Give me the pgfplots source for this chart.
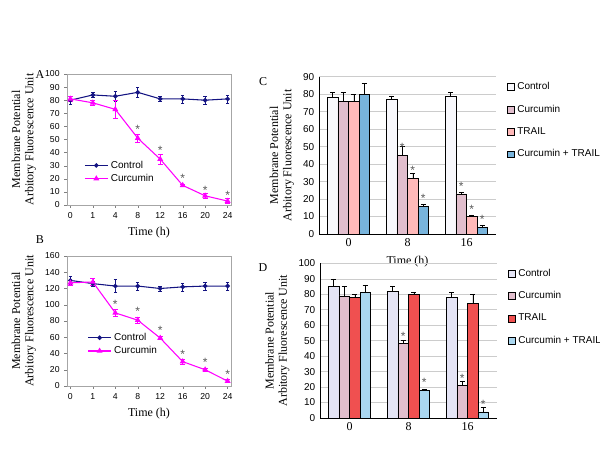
\documentclass[border=0pt]{standalone}
\usepackage{pgfplots}
\pgfplotsset{compat=1.18}
\usepackage{fontspec}
\setmainfont{Liberation Sans}
\newfontfamily\serif{Liberation Serif}
\definecolor{navy}{RGB}{20,20,130}
\definecolor{mag}{RGB}{255,0,255}
\definecolor{cctrl}{RGB}{248,248,252}
\definecolor{dctrl}{RGB}{228,228,245}
\definecolor{ccur}{RGB}{225,190,205}
\definecolor{ctrail}{RGB}{255,185,185}
\definecolor{dtrail}{RGB}{240,80,80}
\definecolor{ccomb}{RGB}{120,180,220}
\definecolor{dcomb}{RGB}{170,215,240}
\tikzset{ast/.style={text=gray!70!black,font=\fontsize{9}{9}\selectfont}}
\pgfplotsset{
 linepanel/.style={scale only axis, width=123pt, anchor=south west,
  xmin=-0.15,xmax=7.15, xtick={0,...,7}, xticklabels={0,1,4,8,12,16,20,24},
  axis line style={gray!70}, tick style={gray}, major tick length=2pt,
  tick align=outside, xtick pos=bottom, ytick pos=left,
  ticklabel style={font=\fontsize{6.5}{7}\selectfont},
  /pgf/number format/assume math mode=true,
  xlabel={\serif Time (h)}, xlabel style={font=\fontsize{9}{10}\selectfont},
  ylabel={\serif Membrane Potential\\\serif Arbitory Fluorescence Unit},
  ylabel style={align=center,font=\fontsize{9}{10}\selectfont},
  legend style={draw=none,fill=none,font=\fontsize{7.5}{8}\selectfont,row sep=-1pt},
  legend cell align=left,
  error bars/error bar style={line width=0.5pt},
 },
 barpanel/.style={scale only axis, width=132.75pt, anchor=south west,
  ybar=0pt, bar width=7.9pt, xmin=-0.5,xmax=2.5, xtick=data, xticklabels={0,8,16},
  axis lines*=left, tick style={draw=none}, major tick length=0pt,
  ymajorgrids, grid style={gray!40},
  ticklabel style={font=\fontsize{7.5}{8}\selectfont},
  xticklabel style={font=\serif\fontsize{9}{10}\selectfont},
  /pgf/number format/assume math mode=true,
  xlabel={\serif Time (h)}, xlabel style={font=\fontsize{9}{10}\selectfont},
  ylabel={\serif Membrane Potential\\\serif Arbitory Fluorescence Unit},
  ylabel style={align=center,font=\fontsize{9}{10}\selectfont},
  legend style={at={(1.04,1)},anchor=north west,draw=none,fill=none,
   font=\fontsize{7.5}{8}\selectfont,row sep=6pt},
  legend cell align=left,
  legend image code/.code={\draw[#1,draw=black] (0cm,-0.09cm) rectangle (0.18cm,0.09cm);},
  every axis plot/.append style={draw=black,line width=0.4pt,
   error bars/y dir=plus, error bars/y explicit,
   error bars/error bar style={black}},
  nodes near coords={\pgfplotspointmeta}, point meta=explicit symbolic,
  every node near coord/.append style={font=\fontsize{9}{9}\selectfont,text=gray!70!black,yshift=-1pt},
 },
}
\begin{document}
\begin{tikzpicture}
\path[use as bounding box] (0,0) rectangle (450pt,-347.25pt);
\node[font=\serif\fontsize{9}{10}\selectfont] at (40*0.75pt,-75*0.75pt) {A};
\node[font=\serif\fontsize{9}{10}\selectfont] at (40*0.75pt,-240*0.75pt) {B};
\node[font=\serif\fontsize{9}{10}\selectfont] at (263*0.75pt,-82*0.75pt) {C};
\node[font=\serif\fontsize{9}{10}\selectfont] at (263*0.75pt,-268*0.75pt) {D};
% Panel A
\begin{axis}[linepanel, at={(67*0.75pt,-205*0.75pt)}, height=98.25pt,
  ymin=0,ymax=100,ytick={0,10,...,100},
  legend style={at={(0.08,0.38)},anchor=north west}]
\addplot[navy,thick,mark=*,mark size=1.3pt,error bars/.cd,y dir=both,y explicit]
 table[x=x,y=y,y error=e]{
x y e
0 80 3
1 84 2
2 83 4
3 86 4
4 81 2
5 81 3
6 80 3
7 81 3
};
\addlegendentry{Control}
\addplot[mag,thick,mark=triangle*,mark size=1.8pt,error bars/.cd,y dir=both,y explicit]
 table[x=x,y=y,y error=e]{
x y e
0 81 2
1 78 2
2 73 7
3 51 3
4 35 4
5 15 1
6 7 2
7 3 2
};
\addlegendentry{Curcumin}
\node[ast] at (axis cs:3,58) {*};
\node[ast] at (axis cs:4,42) {*};
\node[ast] at (axis cs:5,20) {*};
\node[ast] at (axis cs:6,11) {*};
\node[ast] at (axis cs:7,7) {*};
\end{axis}
% Panel B
\begin{axis}[linepanel, at={(67*0.75pt,-386*0.75pt)}, height=97.5pt,
  ymin=0,ymax=160,ytick={0,20,...,160},
  legend style={at={(0.1,0.45)},anchor=north west}]
\addplot[navy,thick,mark=*,mark size=1.3pt,error bars/.cd,y dir=both,y explicit]
 table[x=x,y=y,y error=e]{
x y e
0 130 5
1 126 3
2 123 8
3 123 5
4 120 3
5 122 5
6 123 5
7 123 5
};
\addlegendentry{Control}
\addplot[mag,thick,mark=triangle*,mark size=1.8pt,error bars/.cd,y dir=both,y explicit]
 table[x=x,y=y,y error=e]{
x y e
0 127 3
1 128 4
2 90 4
3 81 4
4 59 2
5 30 3
6 20 2
7 6 2
};
\addlegendentry{Curcumin}
\node[ast] at (axis cs:2,101) {*};
\node[ast] at (axis cs:3,92) {*};
\node[ast] at (axis cs:4,68) {*};
\node[ast] at (axis cs:5,39) {*};
\node[ast] at (axis cs:6,29) {*};
\node[ast] at (axis cs:7,14) {*};
\end{axis}
% Panel C
\begin{axis}[barpanel, at={(319*0.75pt,-234*0.75pt)}, height=118pt,
  ymin=0,ymax=90,ytick={0,10,...,90}]
\addplot[fill=cctrl] table[x=x,y=y,y error=e,meta=m]{
x y e m
0 78 3 {}
1 77 2 {}
2 79 2 {}
};
\addlegendentry{Control}
\addplot[fill=ccur] table[x=x,y=y,y error=e,meta=m]{
x y e m
0 76 5 {}
1 45 5 *
2 23 1 *
};
\addlegendentry{Curcumin}
\addplot[fill=ctrail] table[x=x,y=y,y error=e,meta=m]{
x y e m
0 76 4 {}
1 32 3 *
2 10 1 *
};
\addlegendentry{TRAIL}
\addplot[fill=ccomb] table[x=x,y=y,y error=e,meta=m]{
x y e m
0 80 6 {}
1 16 1 *
2 4 1 *
};
\addlegendentry{Curcumin + TRAIL}
\end{axis}
% Panel D
\begin{axis}[barpanel, at={(320*0.75pt,-418*0.75pt)}, height=116pt,
  ymin=0,ymax=100,ytick={0,10,...,100}, xlabel={}]
\addplot[fill=dctrl] table[x=x,y=y,y error=e,meta=m]{
x y e m
0 85 5 {}
1 82 3 {}
2 78 3 {}
};
\addlegendentry{Control}
\addplot[fill=ccur] table[x=x,y=y,y error=e,meta=m]{
x y e m
0 79 6 {}
1 48 2 *
2 21 3 *
};
\addlegendentry{Curcumin}
\addplot[fill=dtrail] table[x=x,y=y,y error=e,meta=m]{
x y e m
0 78 2 {}
1 80 1 {}
2 74 6 {}
};
\addlegendentry{TRAIL}
\addplot[fill=dcomb] table[x=x,y=y,y error=e,meta=m]{
x y e m
0 81 5 {}
1 18 0.5 *
2 4 3 *
};
\addlegendentry{Curcumin + TRAIL}
\end{axis}
\end{tikzpicture}
\end{document}
